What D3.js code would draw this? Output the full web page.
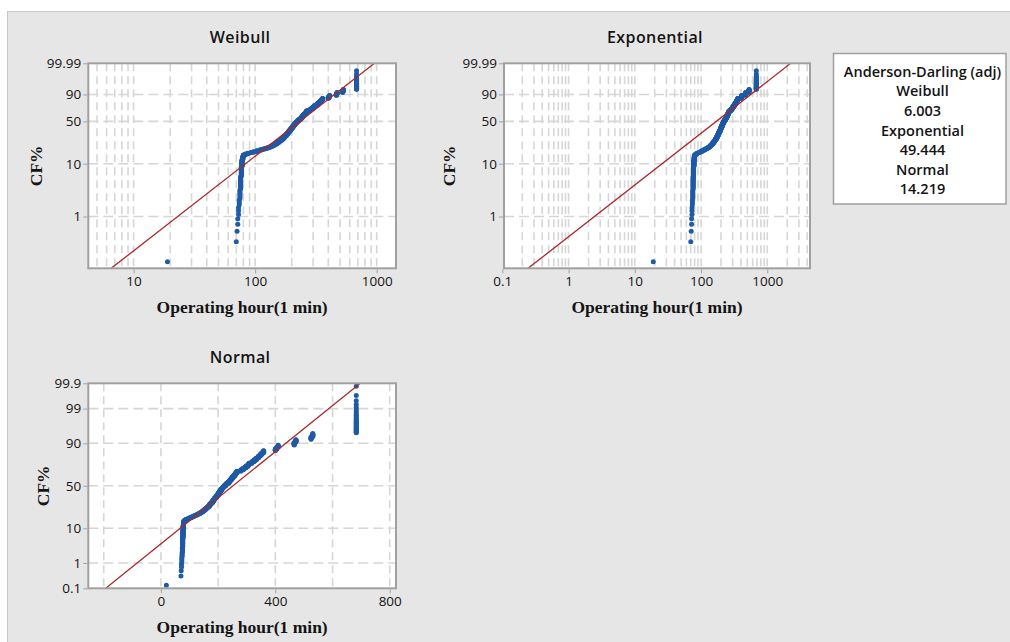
<!DOCTYPE html>
<html><head><meta charset="utf-8">
<script src="https://cdn.jsdelivr.net/npm/d3@7"></script>
<style>html,body{margin:0;padding:0;background:#fff;} svg{display:block}</style>
</head><body>
<svg id="c" width="1010" height="642"></svg>
<script>
// ---- data ----
const sampleValues = [19,70,71,72,73,74,75,76,77,78,79,80,83,87,92,97,103,109,114,120,126,131,136,141,146,151,156,161,166,170,175,180,184,188,193,197,201,205,209,213,217,221,226,230,236,240,245,249,253,258,262,266,280,288,296,304,308,318,326,334,341,347,353,359,400,405,410,466,472,525,531,683];
const sampleCounts = [1,1,1,2,3,3,6,13,16,15,8,6,3,3,2,3,3,3,3,3,3,3,4,4,5,6,6,6,6,9,9,9,9,9,10,10,10,10,10,9,8,8,8,7,9,9,10,9,9,9,9,9,8,9,9,9,7,8,9,8,8,7,7,7,6,6,6,8,7,6,7,29];

const weibullFit = {shape: 1.83, scale: 285};
const exponentialFit = {mean: 245};
const normalFit = {mean: 252, sd: 144};

const weibullYTicks = [99.99, 90, 50, 10, 1];
const weibullXTicks = [10, 100, 1000];
const expYTicks = [99.99, 90, 50, 10, 1];
const expXTicks = [0.1, 1, 10, 100, 1000];
const normalYTicks = [99.9, 99, 90, 50, 10, 1, 0.1];
const normalXTicks = [0, 400, 800];
const normalXGrid = [-200, 0, 200, 400, 600, 800];

const adNames = ["Weibull", "Exponential", "Normal"];
const adValues = ["6.003", "49.444", "14.219"];

// ---- helpers ----
function wt(p){ return Math.log(-Math.log(1 - p)); }
function probit(p){
  const a=[-3.969683028665376e+01,2.209460984245205e+02,-2.759285104469687e+02,1.383577518672690e+02,-3.066479806614716e+01,2.506628277459239e+00];
  const b=[-5.447609879822406e+01,1.615858368580409e+02,-1.556989798598866e+02,6.680131188771972e+01,-1.328068155288572e+01];
  const c=[-7.784894002430293e-03,-3.223964580411365e-01,-2.400758277161838e+00,-2.549732539343734e+00,4.374664141464968e+00,2.938163982698783e+00];
  const d=[7.784695709041462e-03,3.224671290700398e-01,2.445134137142996e+00,3.754408661907416e+00];
  const pl=0.02425, ph=1-pl; let q,r;
  if(p<pl){ q=Math.sqrt(-2*Math.log(p)); return (((((c[0]*q+c[1])*q+c[2])*q+c[3])*q+c[4])*q+c[5])/((((d[0]*q+d[1])*q+d[2])*q+d[3])*q+1); }
  if(p<=ph){ q=p-0.5; r=q*q; return (((((a[0]*r+a[1])*r+a[2])*r+a[3])*r+a[4])*r+a[5])*q/(((((b[0]*r+b[1])*r+b[2])*r+b[3])*r+b[4])*r+1); }
  q=Math.sqrt(-2*Math.log(1-p)); return -(((((c[0]*q+c[1])*q+c[2])*q+c[3])*q+c[4])*q+c[5])/((((d[0]*q+d[1])*q+d[2])*q+d[3])*q+1);
}

// expand sample & median ranks (Benard)
const sample = [];
sampleValues.forEach((v,i)=>{ for(let k=0;k<sampleCounts[i];k++) sample.push(v); });
const n = sample.length;
const pts = sample.map((v,i)=>({v, p:(i+1-0.3)/(n+0.4)}));

const svg = d3.select("#c");
svg.append("rect").attr("x",0).attr("y",0).attr("width",1010).attr("height",642).attr("fill","#ffffff");
svg.append("rect").attr("x",7.5).attr("y",11.5).attr("width",1010).attr("height",640).attr("fill","#e6e6e6").attr("stroke","#c8c8c8").attr("stroke-width",1);

const SANS = "'Open Sans', 'Noto Sans', sans-serif";
const SERIF = "'Liberation Serif', 'Times New Roman', serif";
const GRID = "#d6d6d6", DOT = "#1f5aa6", FIT = "#a8282c", BORDER = "#a0a0a0", TXT = "#141414";

function panel(o){
  const g = svg.append("g");
  const {L,R,T,B,x,yl,tf} = o;
  const y = p => yl(tf(p));
  g.append("rect").attr("x",L).attr("y",T).attr("width",R-L).attr("height",B-T).attr("fill","#fff");
  const clipId = "clip"+o.id;
  svg.append("clipPath").attr("id",clipId).append("rect").attr("x",L).attr("y",T).attr("width",R-L).attr("height",B-T);
  const inner = g.append("g").attr("clip-path",`url(#${clipId})`);
  inner.selectAll(".gx").data(o.gridX).join("line")
    .attr("x1",d=>x(d)).attr("x2",d=>x(d)).attr("y1",T).attr("y2",B)
    .attr("stroke",GRID).attr("stroke-width",1.6).attr("stroke-dasharray","8,5");
  inner.selectAll(".gy").data(o.gridY).join("line")
    .attr("x1",L).attr("x2",R).attr("y1",d=>y(d)).attr("y2",d=>y(d))
    .attr("stroke",GRID).attr("stroke-width",1.6).attr("stroke-dasharray","10,5");
  inner.selectAll("circle").data(pts).join("circle")
    .attr("cx",d=>x(d.v)).attr("cy",d=>y(d.p)).attr("r",2.5).attr("fill",DOT);
  inner.append("path").attr("d",d3.line().x(d=>x(d[0])).y(d=>y(d[1]))(o.fit))
    .attr("fill","none").attr("stroke",FIT).attr("stroke-width",1.3);
  g.append("rect").attr("x",L).attr("y",T).attr("width",R-L).attr("height",B-T)
    .attr("fill","none").attr("stroke",BORDER).attr("stroke-width",2);
  const ya = g.append("g").attr("transform",`translate(${L-1},0)`)
    .call(d3.axisLeft(yl).tickValues(o.yTicks.map(t=>tf(t/100))).tickFormat((d,i)=>String(o.yTicks[i])).tickSize(4).tickPadding(2));
  const xa = g.append("g").attr("transform",`translate(0,${B+1})`)
    .call(d3.axisBottom(x).tickValues(o.xTicks).tickFormat((d,i)=>String(o.xTicks[i])).tickSize(4).tickPadding(3));
  [ya,xa].forEach(a=>{
    a.select(".domain").remove();
    a.selectAll("line").attr("stroke",BORDER).attr("stroke-width",1);
    a.selectAll("text").attr("fill",TXT).style("font-family",SANS).style("font-size","13.5px");
  });
  g.append("text").attr("x",(L+R)/2-2).attr("y",T-20.5).attr("text-anchor","middle")
    .style("font-family",SANS).style("font-size","16px").style("font-weight","600").style("letter-spacing","0.4px").attr("fill",TXT).text(o.title);
  g.append("text").attr("transform",`translate(${o.ylx},${(T+B)/2}) rotate(-90)`).attr("text-anchor","middle")
    .style("font-family",SERIF).style("font-size","17.5px").style("font-weight","bold").attr("fill",TXT).text("CF%");
  g.append("text").attr("x",(L+R)/2).attr("y",B+44.5).attr("text-anchor","middle")
    .style("font-family",SERIF).style("font-size","17.5px").style("font-weight","bold").attr("fill",TXT).text("Operating hour(1 min)");
}

// ---- Weibull ----
{
  const L=88.3,R=396,T=63.3,B=268.3;
  const x = d3.scaleLog().domain([4.24,1442]).range([L,R]);
  const yl = d3.scaleLinear().domain([wt(0.001),wt(0.9999)]).range([B,T]);
  const pLo=0.001, pHi=0.9999;
  const fx = p=>weibullFit.scale*Math.pow(-Math.log(1-p),1/weibullFit.shape);
  panel({id:"w",L,R,T,B,x,yl,tf:wt,gridX:x.ticks(),gridY:[0.9,0.5,0.1,0.01],
    fit:[[fx(pLo),pLo],[fx(pHi),pHi]],yTicks:weibullYTicks,xTicks:weibullXTicks,title:"Weibull",ylx:42});
}
// ---- Exponential ----
{
  const L=504,R=810,T=63.3,B=268.3;
  const x = d3.scaleLog().domain([0.106,4415]).range([L,R]);
  const yl = d3.scaleLinear().domain([wt(0.001),wt(0.9999)]).range([B,T]);
  const pLo=0.001, pHi=0.9999;
  const fx = p=>exponentialFit.mean*(-Math.log(1-p));
  panel({id:"e",L,R,T,B,x,yl,tf:wt,gridX:x.ticks(),gridY:[0.9,0.5,0.1,0.01],
    fit:[[fx(pLo),pLo],[fx(pHi),pHi]],yTicks:expYTicks,xTicks:expXTicks,title:"Exponential",ylx:454.5});
}
// ---- Normal ----
{
  const L=88.3,R=396,T=383.3,B=588.3;
  const x = d3.scaleLinear().domain([-254,822]).range([L,R]);
  const yl = d3.scaleLinear().domain([probit(0.001),probit(0.999)]).range([B,T]);
  const pLo=0.001, pHi=0.999;
  const fx = p=>normalFit.mean+normalFit.sd*probit(p);
  panel({id:"n",L,R,T,B,x,yl,tf:probit,gridX:normalXGrid,gridY:[0.99,0.9,0.5,0.1,0.01],
    fit:[[fx(pLo),pLo],[fx(pHi),pHi]],yTicks:normalYTicks,xTicks:normalXTicks,title:"Normal",ylx:48.8});
}

// ---- legend box ----
{
  const g = svg.append("g");
  g.append("rect").attr("x",833.5).attr("y",53.5).attr("width",172.5).attr("height",150.5)
    .attr("fill","#fff").attr("stroke",BORDER).attr("stroke-width",1.5);
  const lines = ["Anderson-Darling (adj)"];
  adNames.forEach((nm,i)=>{ lines.push(nm); lines.push(adValues[i]); });
  g.selectAll("text").data(lines).join("text")
    .attr("x",922.5).attr("y",(d,i)=>76.8+i*19.6).attr("text-anchor","middle")
    .style("font-family",SANS).style("font-size","14.5px").style("font-weight","600").attr("fill",TXT).text(d=>d);
}
</script>
</body></html>
